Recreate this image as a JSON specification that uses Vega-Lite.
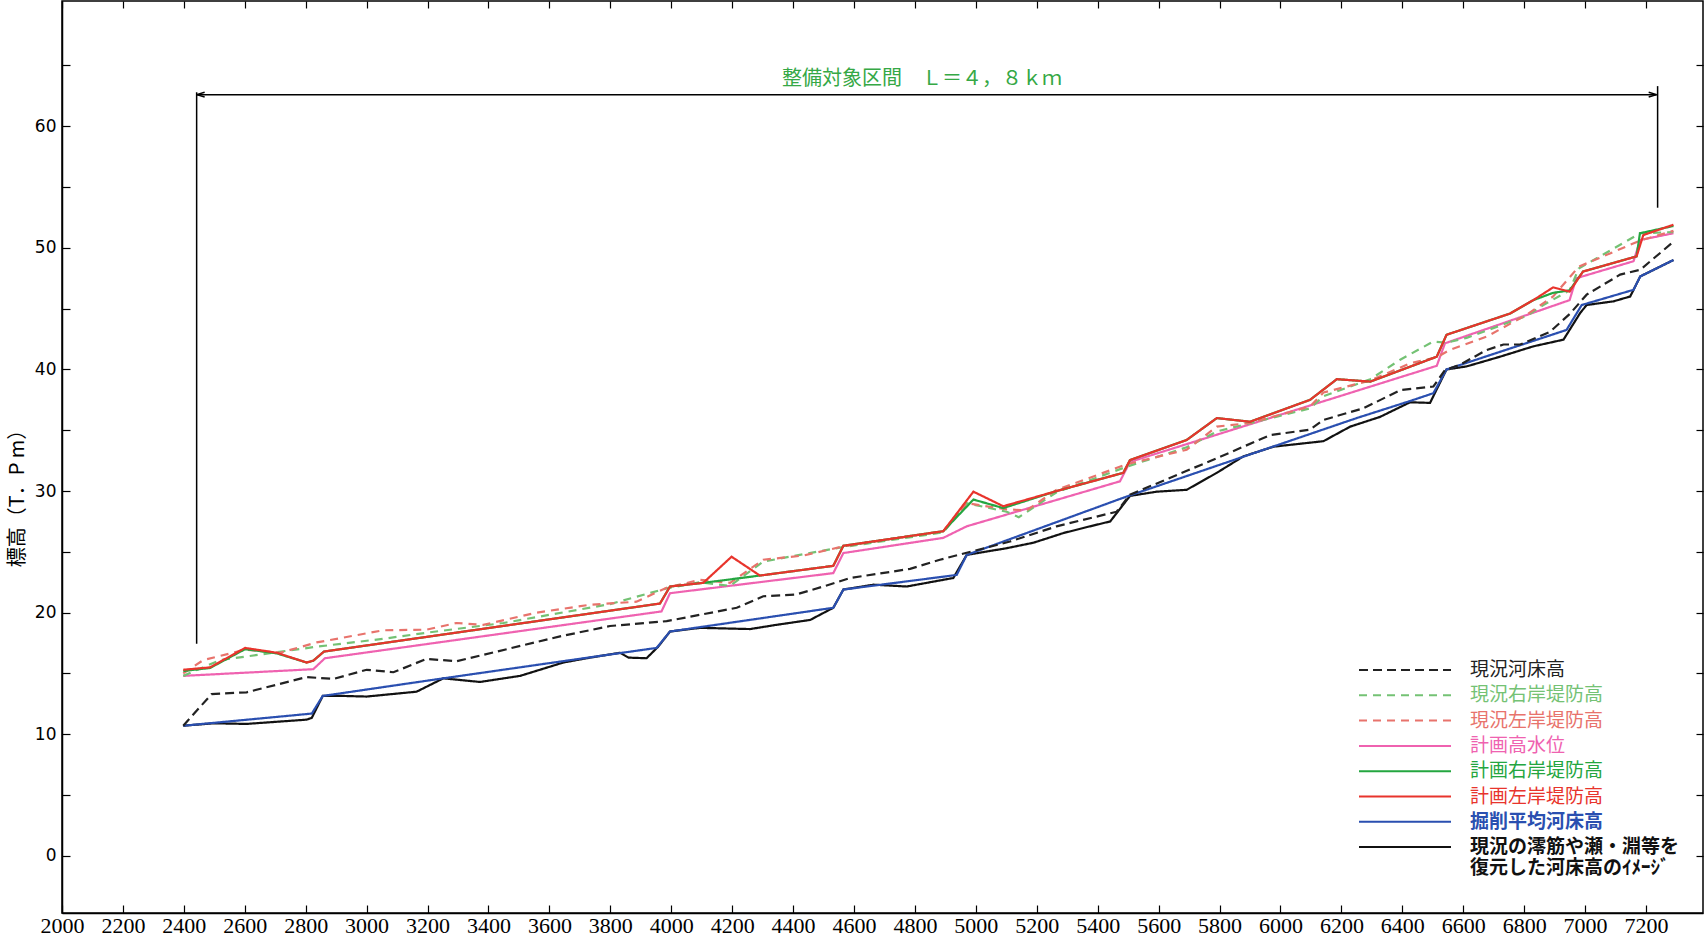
{
  "$schema": "https://vega.github.io/schema/vega-lite/v6.json",
  "width": 1641,
  "height": 912,
  "autosize": {"type": "none"},
  "padding": {"left": 62, "top": 1, "right": 5, "bottom": 35},
  "background": "#ffffff",
  "config": {
    "view": {"stroke": "#000", "strokeWidth": 1.5},
    "axis": {"domainColor": "#000", "domainWidth": 1.5, "tickColor": "#000", "tickWidth": 1.2, "labelColor": "#000", "grid": false},
    "font": "Noto Sans CJK JP"
  },
  "datasets": {
    "profile": [
      {"s":"現況の澪筋や瀬・淵等を復元した河床高のｲﾒｰｼﾞ","x":2398,"y":10.7},
      {"s":"現況の澪筋や瀬・淵等を復元した河床高のｲﾒｰｼﾞ","x":2497,"y":10.9},
      {"s":"現況の澪筋や瀬・淵等を復元した河床高のｲﾒｰｼﾞ","x":2606,"y":10.85},
      {"s":"現況の澪筋や瀬・淵等を復元した河床高のｲﾒｰｼﾞ","x":2803,"y":11.2},
      {"s":"現況の澪筋や瀬・淵等を復元した河床高のｲﾒｰｼﾞ","x":2820,"y":11.35},
      {"s":"現況の澪筋や瀬・淵等を復元した河床高のｲﾒｰｼﾞ","x":2856,"y":13.15},
      {"s":"現況の澪筋や瀬・淵等を復元した河床高のｲﾒｰｼﾞ","x":2924,"y":13.15},
      {"s":"現況の澪筋や瀬・淵等を復元した河床高のｲﾒｰｼﾞ","x":3000,"y":13.1},
      {"s":"現況の澪筋や瀬・淵等を復元した河床高のｲﾒｰｼﾞ","x":3164,"y":13.5},
      {"s":"現況の澪筋や瀬・淵等を復元した河床高のｲﾒｰｼﾞ","x":3252,"y":14.6},
      {"s":"現況の澪筋や瀬・淵等を復元した河床高のｲﾒｰｼﾞ","x":3372,"y":14.3},
      {"s":"現況の澪筋や瀬・淵等を復元した河床高のｲﾒｰｼﾞ","x":3504,"y":14.8},
      {"s":"現況の澪筋や瀬・淵等を復元した河床高のｲﾒｰｼﾞ","x":3646,"y":15.9},
      {"s":"現況の澪筋や瀬・淵等を復元した河床高のｲﾒｰｼﾞ","x":3733,"y":16.3},
      {"s":"現況の澪筋や瀬・淵等を復元した河床高のｲﾒｰｼﾞ","x":3832,"y":16.7},
      {"s":"現況の澪筋や瀬・淵等を復元した河床高のｲﾒｰｼﾞ","x":3860,"y":16.3},
      {"s":"現況の澪筋や瀬・淵等を復元した河床高のｲﾒｰｼﾞ","x":3919,"y":16.25},
      {"s":"現況の澪筋や瀬・淵等を復元した河床高のｲﾒｰｼﾞ","x":3957,"y":17.2},
      {"s":"現況の澪筋や瀬・淵等を復元した河床高のｲﾒｰｼﾞ","x":3996,"y":18.45},
      {"s":"現況の澪筋や瀬・淵等を復元した河床高のｲﾒｰｼﾞ","x":4095,"y":18.75},
      {"s":"現況の澪筋や瀬・淵等を復元した河床高のｲﾒｰｼﾞ","x":4259,"y":18.65},
      {"s":"現況の澪筋や瀬・淵等を復元した河床高のｲﾒｰｼﾞ","x":4346,"y":19.0},
      {"s":"現況の澪筋や瀬・淵等を復元した河床高のｲﾒｰｼﾞ","x":4456,"y":19.4},
      {"s":"現況の澪筋や瀬・淵等を復元した河床高のｲﾒｰｼﾞ","x":4532,"y":20.4},
      {"s":"現況の澪筋や瀬・淵等を復元した河床高のｲﾒｰｼﾞ","x":4565,"y":21.9},
      {"s":"現況の澪筋や瀬・淵等を復元した河床高のｲﾒｰｼﾞ","x":4664,"y":22.3},
      {"s":"現況の澪筋や瀬・淵等を復元した河床高のｲﾒｰｼﾞ","x":4773,"y":22.15},
      {"s":"現況の澪筋や瀬・淵等を復元した河床高のｲﾒｰｼﾞ","x":4926,"y":22.85},
      {"s":"現況の澪筋や瀬・淵等を復元した河床高のｲﾒｰｼﾞ","x":4970,"y":24.75},
      {"s":"現況の澪筋や瀬・淵等を復元した河床高のｲﾒｰｼﾞ","x":5101,"y":25.3},
      {"s":"現況の澪筋や瀬・淵等を復元した河床高のｲﾒｰｼﾞ","x":5189,"y":25.75},
      {"s":"現況の澪筋や瀬・淵等を復元した河床高のｲﾒｰｼﾞ","x":5288,"y":26.55},
      {"s":"現況の澪筋や瀬・淵等を復元した河床高のｲﾒｰｼﾞ","x":5375,"y":27.1},
      {"s":"現況の澪筋や瀬・淵等を復元した河床高のｲﾒｰｼﾞ","x":5441,"y":27.5},
      {"s":"現況の澪筋や瀬・淵等を復元した河床高のｲﾒｰｼﾞ","x":5506,"y":29.6},
      {"s":"現況の澪筋や瀬・淵等を復元した河床高のｲﾒｰｼﾞ","x":5594,"y":29.95},
      {"s":"現況の澪筋や瀬・淵等を復元した河床高のｲﾒｰｼﾞ","x":5692,"y":30.1},
      {"s":"現況の澪筋や瀬・淵等を復元した河床高のｲﾒｰｼﾞ","x":5791,"y":31.5},
      {"s":"現況の澪筋や瀬・淵等を復元した河床高のｲﾒｰｼﾞ","x":5878,"y":32.85},
      {"s":"現況の澪筋や瀬・淵等を復元した河床高のｲﾒｰｼﾞ","x":5977,"y":33.65},
      {"s":"現況の澪筋や瀬・淵等を復元した河床高のｲﾒｰｼﾞ","x":6141,"y":34.1},
      {"s":"現況の澪筋や瀬・淵等を復元した河床高のｲﾒｰｼﾞ","x":6229,"y":35.3},
      {"s":"現況の澪筋や瀬・淵等を復元した河床高のｲﾒｰｼﾞ","x":6327,"y":36.1},
      {"s":"現況の澪筋や瀬・淵等を復元した河床高のｲﾒｰｼﾞ","x":6425,"y":37.3},
      {"s":"現況の澪筋や瀬・淵等を復元した河床高のｲﾒｰｼﾞ","x":6491,"y":37.25},
      {"s":"現況の澪筋や瀬・淵等を復元した河床高のｲﾒｰｼﾞ","x":6545,"y":40.0},
      {"s":"現況の澪筋や瀬・淵等を復元した河床高のｲﾒｰｼﾞ","x":6611,"y":40.25},
      {"s":"現況の澪筋や瀬・淵等を復元した河床高のｲﾒｰｼﾞ","x":6721,"y":41.05},
      {"s":"現況の澪筋や瀬・淵等を復元した河床高のｲﾒｰｼﾞ","x":6830,"y":41.9},
      {"s":"現況の澪筋や瀬・淵等を復元した河床高のｲﾒｰｼﾞ","x":6929,"y":42.45},
      {"s":"現況の澪筋や瀬・淵等を復元した河床高のｲﾒｰｼﾞ","x":6984,"y":44.65},
      {"s":"現況の澪筋や瀬・淵等を復元した河床高のｲﾒｰｼﾞ","x":7005,"y":45.3},
      {"s":"現況の澪筋や瀬・淵等を復元した河床高のｲﾒｰｼﾞ","x":7093,"y":45.6},
      {"s":"現況の澪筋や瀬・淵等を復元した河床高のｲﾒｰｼﾞ","x":7148,"y":46.0},
      {"s":"現況の澪筋や瀬・淵等を復元した河床高のｲﾒｰｼﾞ","x":7181,"y":47.65},
      {"s":"現況の澪筋や瀬・淵等を復元した河床高のｲﾒｰｼﾞ","x":7290,"y":49.0},

      {"s":"掘削平均河床高","x":2398,"y":10.7},
      {"s":"掘削平均河床高","x":2820,"y":11.7},
      {"s":"掘削平均河床高","x":2856,"y":13.15},
      {"s":"掘削平均河床高","x":3252,"y":14.6},
      {"s":"掘削平均河床高","x":3656,"y":16.05},
      {"s":"掘削平均河床高","x":3952,"y":17.1},
      {"s":"掘削平均河床高","x":3996,"y":18.45},
      {"s":"掘削平均河床高","x":4532,"y":20.4},
      {"s":"掘削平均河床高","x":4565,"y":21.9},
      {"s":"掘削平均河床高","x":4937,"y":23.1},
      {"s":"掘削平均河床高","x":4970,"y":24.75},
      {"s":"掘削平均河床高","x":5495,"y":29.55},
      {"s":"掘削平均河床高","x":6250,"y":36.0},
      {"s":"掘削平均河床高","x":6425,"y":37.4},
      {"s":"掘削平均河床高","x":6502,"y":38.05},
      {"s":"掘削平均河床高","x":6545,"y":40.0},
      {"s":"掘削平均河床高","x":6939,"y":43.25},
      {"s":"掘削平均河床高","x":6989,"y":45.3},
      {"s":"掘削平均河床高","x":7159,"y":46.55},
      {"s":"掘削平均河床高","x":7181,"y":47.65},
      {"s":"掘削平均河床高","x":7290,"y":49.0},

      {"s":"現況河床高","x":2398,"y":10.7},
      {"s":"現況河床高","x":2491,"y":13.3},
      {"s":"現況河床高","x":2606,"y":13.45},
      {"s":"現況河床高","x":2803,"y":14.7},
      {"s":"現況河床高","x":2891,"y":14.55},
      {"s":"現況河床高","x":3000,"y":15.3},
      {"s":"現況河床高","x":3088,"y":15.1},
      {"s":"現況河床高","x":3197,"y":16.2},
      {"s":"現況河床高","x":3295,"y":16.0},
      {"s":"現況河床高","x":3635,"y":18.05},
      {"s":"現況河床高","x":3799,"y":18.9},
      {"s":"現況河床高","x":3985,"y":19.3},
      {"s":"現況河床高","x":4215,"y":20.4},
      {"s":"現況河床高","x":4302,"y":21.35},
      {"s":"現況河床高","x":4411,"y":21.5},
      {"s":"現況河床高","x":4499,"y":22.15},
      {"s":"現況河床高","x":4587,"y":22.85},
      {"s":"現況河床高","x":4784,"y":23.6},
      {"s":"現況河床高","x":4882,"y":24.35},
      {"s":"現況河床高","x":5112,"y":25.85},
      {"s":"現況河床高","x":5265,"y":27.1},
      {"s":"現況河床高","x":5462,"y":28.3},
      {"s":"現況河床高","x":5506,"y":29.7},
      {"s":"現況河床高","x":5791,"y":32.7},
      {"s":"現況河床高","x":5966,"y":34.6},
      {"s":"現況河床高","x":6097,"y":35.05},
      {"s":"現況河床高","x":6141,"y":35.85},
      {"s":"現況河床高","x":6272,"y":36.8},
      {"s":"現況河床高","x":6393,"y":38.3},
      {"s":"現況河床高","x":6502,"y":38.6},
      {"s":"現況河床高","x":6540,"y":39.95},
      {"s":"現況河床高","x":6590,"y":40.4},
      {"s":"現況河床高","x":6677,"y":41.6},
      {"s":"現況河床高","x":6732,"y":42.05},
      {"s":"現況河床高","x":6787,"y":42.05},
      {"s":"現況河床高","x":6885,"y":43.1},
      {"s":"現況河床高","x":6951,"y":44.6},
      {"s":"現況河床高","x":7005,"y":46.15},
      {"s":"現況河床高","x":7115,"y":47.8},
      {"s":"現況河床高","x":7181,"y":48.2},
      {"s":"現況河床高","x":7290,"y":50.5},

      {"s":"計画高水位","x":2398,"y":14.8},
      {"s":"計画高水位","x":2825,"y":15.35},
      {"s":"計画高水位","x":2863,"y":16.25},
      {"s":"計画高水位","x":3968,"y":20.1},
      {"s":"計画高水位","x":3996,"y":21.6},
      {"s":"計画高水位","x":4532,"y":23.25},
      {"s":"計画高水位","x":4565,"y":24.9},
      {"s":"計画高水位","x":4893,"y":26.15},
      {"s":"計画高水位","x":4970,"y":27.1},
      {"s":"計画高水位","x":5473,"y":30.8},
      {"s":"計画高水位","x":5506,"y":32.4},
      {"s":"計画高水位","x":6513,"y":40.3},
      {"s":"計画高水位","x":6540,"y":42.15},
      {"s":"計画高水位","x":6949,"y":45.7},
      {"s":"計画高水位","x":6971,"y":47.5},
      {"s":"計画高水位","x":7159,"y":48.9},
      {"s":"計画高水位","x":7181,"y":50.65},
      {"s":"計画高水位","x":7290,"y":51.2},

      {"s":"現況右岸堤防高","x":2398,"y":14.8},
      {"s":"現況右岸堤防高","x":2519,"y":16.1},
      {"s":"現況右岸堤防高","x":2836,"y":17.2},
      {"s":"現況右岸堤防高","x":3055,"y":17.85},
      {"s":"現況右岸堤防高","x":3197,"y":18.35},
      {"s":"現況右岸堤防高","x":3449,"y":19.15},
      {"s":"現況右岸堤防高","x":3799,"y":20.7},
      {"s":"現況右岸堤防高","x":3985,"y":22.0},
      {"s":"現況右岸堤防高","x":4095,"y":22.5},
      {"s":"現況右岸堤防高","x":4193,"y":22.2},
      {"s":"現況右岸堤防高","x":4302,"y":24.2},
      {"s":"現況右岸堤防高","x":4565,"y":25.4},
      {"s":"現況右岸堤防高","x":4893,"y":26.6},
      {"s":"現況右岸堤防高","x":4970,"y":29.0},
      {"s":"現況右岸堤防高","x":5101,"y":28.3},
      {"s":"現況右岸堤防高","x":5141,"y":27.85},
      {"s":"現況右岸堤防高","x":5265,"y":29.9},
      {"s":"現況右岸堤防高","x":5495,"y":32.0},
      {"s":"現況右岸堤防高","x":5692,"y":33.6},
      {"s":"現況右岸堤防高","x":5791,"y":34.9},
      {"s":"現況右岸堤防高","x":6097,"y":36.8},
      {"s":"現況右岸堤防高","x":6141,"y":37.8},
      {"s":"現況右岸堤防高","x":6295,"y":39.2},
      {"s":"現況右岸堤防高","x":6393,"y":40.8},
      {"s":"現況右岸堤防高","x":6502,"y":42.3},
      {"s":"現況右岸堤防高","x":6545,"y":42.2},
      {"s":"現況右岸堤防高","x":6611,"y":42.6},
      {"s":"現況右岸堤防高","x":6808,"y":44.4},
      {"s":"現況右岸堤防高","x":6863,"y":45.3},
      {"s":"現況右岸堤防高","x":6949,"y":46.5},
      {"s":"現況右岸堤防高","x":6979,"y":48.3},
      {"s":"現況右岸堤防高","x":7181,"y":51.2},
      {"s":"現況右岸堤防高","x":7290,"y":51.3},

      {"s":"現況左岸堤防高","x":2398,"y":15.0},
      {"s":"現況左岸堤防高","x":2464,"y":16.1},
      {"s":"現況左岸堤防高","x":2601,"y":16.95},
      {"s":"現況左岸堤防高","x":2716,"y":16.7},
      {"s":"現況左岸堤防高","x":2836,"y":17.55},
      {"s":"現況左岸堤防高","x":3055,"y":18.55},
      {"s":"現況左岸堤防高","x":3197,"y":18.6},
      {"s":"現況左岸堤防高","x":3295,"y":19.15},
      {"s":"現況左岸堤防高","x":3383,"y":19.0},
      {"s":"現況左岸堤防高","x":3558,"y":20.0},
      {"s":"現況左岸堤防高","x":3733,"y":20.65},
      {"s":"現況左岸堤防高","x":3886,"y":20.9},
      {"s":"現況左岸堤防高","x":3985,"y":22.05},
      {"s":"現況左岸堤防高","x":4095,"y":22.7},
      {"s":"現況左岸堤防高","x":4193,"y":22.45},
      {"s":"現況左岸堤防高","x":4302,"y":24.35},
      {"s":"現況左岸堤防高","x":4434,"y":24.7},
      {"s":"現況左岸堤防高","x":4565,"y":25.45},
      {"s":"現況左岸堤防高","x":4893,"y":26.7},
      {"s":"現況左岸堤防高","x":4970,"y":29.0},
      {"s":"現況左岸堤防高","x":5101,"y":28.5},
      {"s":"現況左岸堤防高","x":5166,"y":28.4},
      {"s":"現況左岸堤防高","x":5265,"y":30.1},
      {"s":"現況左岸堤防高","x":5495,"y":32.2},
      {"s":"現況左岸堤防高","x":5692,"y":33.4},
      {"s":"現況左岸堤防高","x":5791,"y":35.3},
      {"s":"現況左岸堤防高","x":5900,"y":35.6},
      {"s":"現況左岸堤防高","x":6097,"y":36.95},
      {"s":"現況左岸堤防高","x":6141,"y":38.1},
      {"s":"現況左岸堤防高","x":6295,"y":39.1},
      {"s":"現況左岸堤防高","x":6425,"y":40.5},
      {"s":"現況左岸堤防高","x":6513,"y":41.0},
      {"s":"現況左岸堤防高","x":6555,"y":41.6},
      {"s":"現況左岸堤防高","x":6677,"y":42.7},
      {"s":"現況左岸堤防高","x":6808,"y":44.5},
      {"s":"現況左岸堤防高","x":6895,"y":46.0},
      {"s":"現況左岸堤防高","x":6979,"y":48.45},
      {"s":"現況左岸堤防高","x":7181,"y":50.6},
      {"s":"現況左岸堤防高","x":7290,"y":51.4},

      {"s":"計画右岸堤防高","x":2398,"y":15.2},
      {"s":"計画右岸堤防高","x":2486,"y":15.45},
      {"s":"計画右岸堤防高","x":2601,"y":17.0},
      {"s":"計画右岸堤防高","x":2705,"y":16.65},
      {"s":"計画右岸堤防高","x":2803,"y":15.9},
      {"s":"計画右岸堤防高","x":2825,"y":16.05},
      {"s":"計画右岸堤防高","x":2860,"y":16.8},
      {"s":"計画右岸堤防高","x":3963,"y":20.75},
      {"s":"計画右岸堤防高","x":3996,"y":22.15},
      {"s":"計画右岸堤防高","x":4105,"y":22.45},
      {"s":"計画右岸堤防高","x":4291,"y":23.05},
      {"s":"計画右岸堤防高","x":4532,"y":23.85},
      {"s":"計画右岸堤防高","x":4565,"y":25.5},
      {"s":"計画右岸堤防高","x":4893,"y":26.7},
      {"s":"計画右岸堤防高","x":4992,"y":29.3},
      {"s":"計画右岸堤防高","x":5090,"y":28.6},
      {"s":"計画右岸堤防高","x":5265,"y":30.0},
      {"s":"計画右岸堤防高","x":5484,"y":31.5},
      {"s":"計画右岸堤防高","x":5506,"y":32.55},
      {"s":"計画右岸堤防高","x":5692,"y":34.2},
      {"s":"計画右岸堤防高","x":5791,"y":36.0},
      {"s":"計画右岸堤防高","x":5900,"y":35.7},
      {"s":"計画右岸堤防高","x":6097,"y":37.5},
      {"s":"計画右岸堤防高","x":6185,"y":39.2},
      {"s":"計画右岸堤防高","x":6295,"y":39.0},
      {"s":"計画右岸堤防高","x":6513,"y":41.05},
      {"s":"計画右岸堤防高","x":6545,"y":42.85},
      {"s":"計画右岸堤防高","x":6754,"y":44.6},
      {"s":"計画右岸堤防高","x":6830,"y":45.7},
      {"s":"計画右岸堤防高","x":6895,"y":46.3},
      {"s":"計画右岸堤防高","x":6949,"y":46.5},
      {"s":"計画右岸堤防高","x":6993,"y":48.05},
      {"s":"計画右岸堤防高","x":7169,"y":49.3},
      {"s":"計画右岸堤防高","x":7180,"y":51.2},
      {"s":"計画右岸堤防高","x":7290,"y":51.8},

      {"s":"計画左岸堤防高","x":2398,"y":15.3},
      {"s":"計画左岸堤防高","x":2486,"y":15.5},
      {"s":"計画左岸堤防高","x":2601,"y":17.1},
      {"s":"計画左岸堤防高","x":2705,"y":16.7},
      {"s":"計画左岸堤防高","x":2803,"y":15.9},
      {"s":"計画左岸堤防高","x":2825,"y":16.05},
      {"s":"計画左岸堤防高","x":2860,"y":16.8},
      {"s":"計画左岸堤防高","x":3963,"y":20.75},
      {"s":"計画左岸堤防高","x":3996,"y":22.15},
      {"s":"計画左岸堤防高","x":4105,"y":22.45},
      {"s":"計画左岸堤防高","x":4198,"y":24.6},
      {"s":"計画左岸堤防高","x":4291,"y":23.05},
      {"s":"計画左岸堤防高","x":4532,"y":23.85},
      {"s":"計画左岸堤防高","x":4565,"y":25.5},
      {"s":"計画左岸堤防高","x":4893,"y":26.7},
      {"s":"計画左岸堤防高","x":4992,"y":29.95},
      {"s":"計画左岸堤防高","x":5090,"y":28.75},
      {"s":"計画左岸堤防高","x":5265,"y":30.0},
      {"s":"計画左岸堤防高","x":5484,"y":31.5},
      {"s":"計画左岸堤防高","x":5506,"y":32.55},
      {"s":"計画左岸堤防高","x":5692,"y":34.2},
      {"s":"計画左岸堤防高","x":5791,"y":36.0},
      {"s":"計画左岸堤防高","x":5900,"y":35.7},
      {"s":"計画左岸堤防高","x":6097,"y":37.5},
      {"s":"計画左岸堤防高","x":6185,"y":39.2},
      {"s":"計画左岸堤防高","x":6295,"y":39.0},
      {"s":"計画左岸堤防高","x":6513,"y":41.05},
      {"s":"計画左岸堤防高","x":6545,"y":42.85},
      {"s":"計画左岸堤防高","x":6754,"y":44.6},
      {"s":"計画左岸堤防高","x":6830,"y":45.7},
      {"s":"計画左岸堤防高","x":6895,"y":46.75},
      {"s":"計画左岸堤防高","x":6949,"y":46.4},
      {"s":"計画左岸堤防高","x":6993,"y":48.05},
      {"s":"計画左岸堤防高","x":7169,"y":49.3},
      {"s":"計画左岸堤防高","x":7191,"y":51.05},
      {"s":"計画左岸堤防高","x":7290,"y":51.9}
    ]
  },
  "layer": [
    {
      "data": {"name": "profile"},
      "mark": {"type": "line", "strokeWidth": 2.2},
      "encoding": {
        "x": {
          "field": "x", "type": "quantitative",
          "scale": {"domain": [2000, 7387], "nice": false, "zero": false},
          "axis": {
            "orient": "bottom",
            "values": [2000,2200,2400,2600,2800,3000,3200,3400,3600,3800,4000,4200,4400,4600,4800,5000,5200,5400,5600,5800,6000,6200,6400,6600,6800,7000,7200],
            "format": "d", "title": null,
            "labelFont": "Liberation Sans Narrow", "labelFontSize": 22,
            "tickSize": -8, "labelPadding": 10, "labelFlush": false, "labelOverlap": false
          }
        },
        "y": {
          "field": "y", "type": "quantitative",
          "scale": {"domain": [-4.7, 70.3], "nice": false, "zero": false},
          "axis": {
            "orient": "left",
            "values": [0,5,10,15,20,25,30,35,40,45,50,55,60,65],
            "labelExpr": "datum.value % 10 === 0 ? datum.label : ''",
            "labelFont": "DejaVu Sans", "labelFontSize": 17,
            "tickSize": -8, "labelPadding": 14,
            "title": "標高（T．P m）",
            "titleFont": "Noto Sans CJK JP", "titleFontSize": 20, "titleFontWeight": "normal",
            "titleAngle": -90, "titleX": -45, "titleY": 492, "titleAlign": "center", "titleBaseline": "middle"
          }
        },
        "color": {
          "field": "s", "type": "nominal",
          "scale": {
            "domain": ["現況河床高","現況右岸堤防高","現況左岸堤防高","計画高水位","計画右岸堤防高","計画左岸堤防高","掘削平均河床高","現況の澪筋や瀬・淵等を復元した河床高のｲﾒｰｼﾞ"],
            "range": ["#222222","#74c274","#e8736c","#ef62b0","#24a640","#e8342c","#2a4fb0","#111111"]
          },
          "legend": {
            "orient": "none", "legendX": 1296, "legendY": 659,
            "title": null,
            "symbolType": "stroke", "symbolSize": 8464, "symbolStrokeWidth": 2,
            "clipHeight": 20,
            "labelFont": "Noto Sans CJK JP", "labelFontSize": 19,
            "labelOffset": 18, "rowPadding": 5.3, "labelLimit": 400,
            "labelColor": {"expr": "scale('color', datum.value)"},
            "labelFontWeight": {"expr": "(datum.value === '掘削平均河床高' || length(datum.value) > 12) ? 'bold' : 'normal'"},
            "labelExpr": "length(datum.label) > 12 ? [substring(datum.label, 0, 11), substring(datum.label, 11)] : datum.label"
          }
        },
        "strokeDash": {
          "field": "s", "type": "nominal",
          "scale": {
            "domain": ["現況河床高","現況右岸堤防高","現況左岸堤防高","計画高水位","計画右岸堤防高","計画左岸堤防高","掘削平均河床高","現況の澪筋や瀬・淵等を復元した河床高のｲﾒｰｼﾞ"],
            "range": [[9,5],[8,6],[8,6],[1,0],[1,0],[1,0],[1,0],[1,0]]
          }
        },
        "order": {"field": "x", "type": "quantitative"}
      }
    },
    {
      "data": {"values": [
        {"x": 2442, "x2": 7235, "y": 62.6, "y2": 62.6},
        {"x": 2442, "x2": 2442, "y": 17.45, "y2": 62.8},
        {"x": 7238, "x2": 7238, "y": 53.3, "y2": 63.3}
      ]},
      "mark": {"type": "rule", "color": "#000", "strokeWidth": 1.5},
      "encoding": {
        "x": {
          "field": "x", "type": "quantitative",
          "axis": {
            "orient": "top",
            "values": [2000,2200,2400,2600,2800,3000,3200,3400,3600,3800,4000,4200,4400,4600,4800,5000,5200,5400,5600,5800,6000,6200,6400,6600,6800,7000,7200],
            "labels": false, "title": null, "domain": false, "tickSize": -7
          }
        },
        "x2": {"field": "x2"},
        "y": {
          "field": "y", "type": "quantitative",
          "axis": {
            "orient": "right",
            "values": [0,5,10,15,20,25,30,35,40,45,50,55,60,65],
            "labels": false, "title": null, "domain": false, "tickSize": -7
          }
        },
        "y2": {"field": "y2"}
      }
    },
    {
      "data": {"values": [
        {"x": 2442, "y": 62.6, "dir": "left"},
        {"x": 7235, "y": 62.6, "dir": "right"}
      ]},
      "mark": {"type": "point", "filled": false, "stroke": "#000", "strokeWidth": 1.5, "size": 64, "opacity": 1},
      "encoding": {
        "x": {"field": "x", "type": "quantitative", "axis": null},
        "y": {"field": "y", "type": "quantitative", "axis": null},
        "shape": {
          "field": "dir", "type": "nominal", "legend": null,
          "scale": {"domain": ["left", "right"], "range": ["M0,0L2,-0.6M0,0L2,0.6", "M0,0L-2,-0.6M0,0L-2,0.6"]}
        }
      }
    },
    {
      "data": {"values": [
        {"x": 4823, "y": 63.9, "label": "整備対象区間　Ｌ＝４，８ｋｍ"}
      ]},
      "mark": {"type": "text", "font": "Noto Sans CJK JP", "fontSize": 20, "color": "#35a845", "align": "center", "baseline": "middle"},
      "encoding": {
        "x": {"field": "x", "type": "quantitative", "axis": null},
        "y": {"field": "y", "type": "quantitative", "axis": null},
        "text": {"field": "label"}
      }
    }
  ],
  "resolve": {"axis": {"x": "independent", "y": "independent"}}
}
